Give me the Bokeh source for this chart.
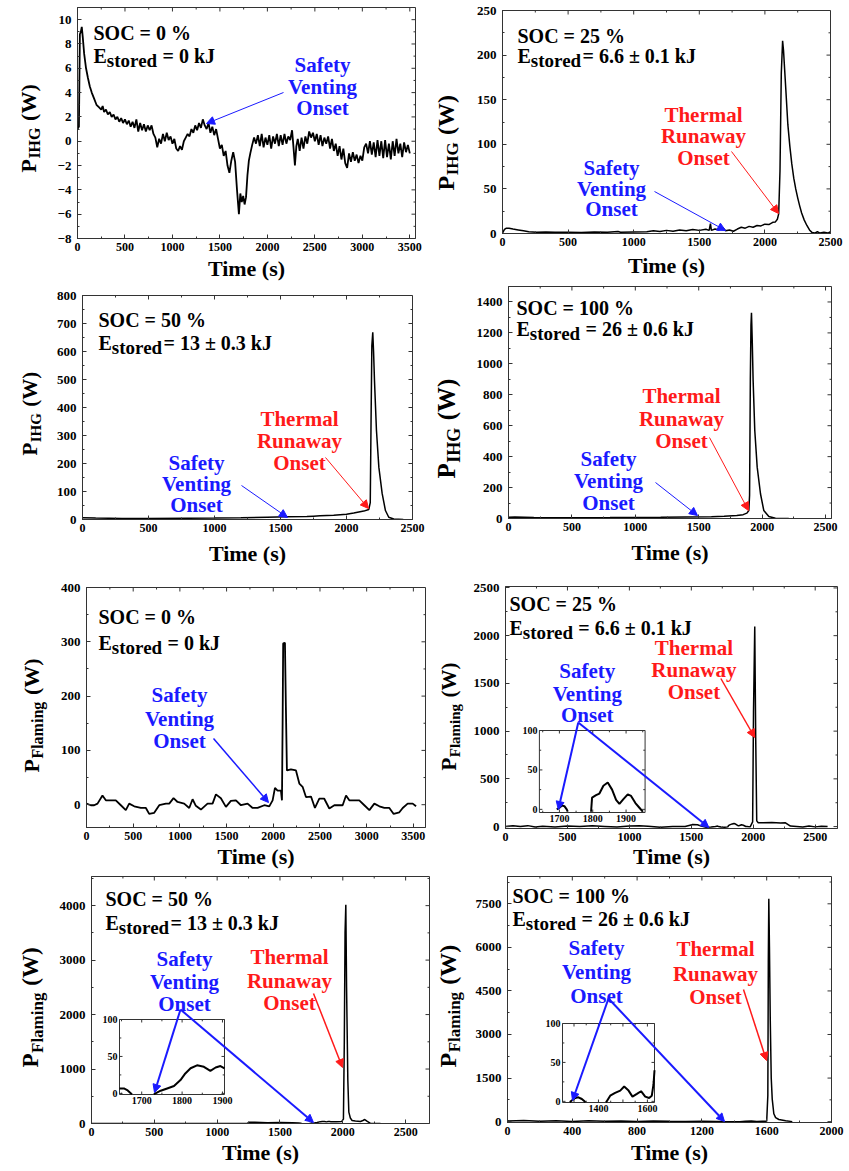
import math
from bokeh.plotting import figure
from bokeh.layouts import column, row
from bokeh.models import Range1d, LinearAxis, SingleIntervalTicker, Label, Arrow, NormalHead
from bokeh.embed import file_html
from bokeh.resources import INLINE
from bokeh.core.properties import value

NAN = float("nan")

# ------------------------------------------------------------------ data
# (time s, power W)
ihg_soc0 = [
    (0, 1.0), (15, 1.2), (25, 8.8), (35, 9.0), (45, 9.4), (55, 8.6), (70, 7.2), (90, 6.0), (110, 5.2), (130, 4.5),
    (150, 4.0), (175, 3.5), (200, 3.0), (225, 2.8), (250, 2.6), (265, 2.9), (280, 2.4), (300, 2.6), (320, 2.2), (340, 2.4),
    (360, 2.0), (380, 2.2), (400, 1.8), (420, 2.0), (440, 1.6), (460, 1.9), (480, 1.5), (500, 1.8), (520, 1.4), (540, 1.7),
    (560, 1.2), (580, 1.6), (600, 1.1), (620, 1.8), (640, 0.8), (660, 1.5), (680, 0.9), (700, 1.4), (720, 0.8), (740, 1.3),
    (760, 0.9), (780, 1.3), (800, 0.6), (820, 0.3), (840, -0.5), (860, 0.2), (880, -0.2), (900, 0.6), (920, 0.0), (940, 0.7),
    (960, 0.1), (980, 0.4), (1000, -0.2), (1020, 0.2), (1040, -0.6), (1060, -0.8), (1080, -0.4), (1100, -0.7), (1120, 0.0), (1140, 0.3),
    (1160, 0.6), (1180, 0.4), (1200, 1.0), (1220, 0.7), (1240, 1.3), (1260, 0.9), (1280, 1.5), (1300, 1.1), (1320, 1.8), (1340, 1.3),
    (1360, 1.0), (1380, 1.5), (1400, 0.7), (1420, 1.2), (1440, 0.5), (1460, 1.0), (1480, 0.2), (1500, -0.6), (1520, -0.3), (1540, -1.2),
    (1560, -0.8), (1580, -2.0), (1600, -2.6), (1620, -1.6), (1640, -0.9), (1660, -1.7), (1680, -4.0), (1700, -6.0), (1715, -4.3), (1730, -5.0),
    (1745, -4.5), (1760, -5.2), (1775, -4.6), (1790, -2.8), (1805, -1.6), (1820, -1.0), (1840, -0.3), (1860, 0.3), (1880, -0.2), (1900, 0.5),
    (1920, -0.4), (1940, 0.6), (1960, -0.5), (1980, 0.3), (2000, -0.3), (2020, 0.5), (2040, -0.6), (2060, 0.4), (2080, -0.2), (2100, 0.6),
    (2120, -0.4), (2140, 0.5), (2160, -0.3), (2180, 0.6), (2200, -0.2), (2220, 0.4), (2240, 0.1), (2260, 0.9), (2275, -0.5), (2290, -2.0),
    (2305, -0.4), (2320, 0.2), (2340, -0.8), (2360, 0.3), (2380, -0.6), (2400, 0.4), (2420, -0.2), (2440, 0.8), (2460, 0.3), (2480, 0.7),
    (2500, 0.0), (2520, 0.6), (2540, -0.3), (2560, 0.5), (2580, -0.4), (2600, 0.3), (2620, -0.2), (2640, 0.4), (2660, -0.6), (2680, 0.2),
    (2700, -0.8), (2720, -0.2), (2740, -1.2), (2760, -0.4), (2780, -1.5), (2800, -0.6), (2820, -1.8), (2840, -2.2), (2860, -1.0), (2880, -1.7),
    (2900, -0.9), (2920, -1.6), (2940, -1.1), (2960, -1.8), (2980, -1.2), (3000, -1.6), (3020, -0.5), (3040, -0.2), (3060, -1.0), (3080, 0.0),
    (3100, -1.1), (3120, -0.1), (3140, -1.3), (3160, 0.1), (3180, -1.2), (3200, 0.0), (3220, -1.4), (3240, 0.1), (3260, -1.3), (3280, -0.2),
    (3300, -1.5), (3320, 0.0), (3340, -1.2), (3360, 0.2), (3380, -1.0), (3400, -0.2), (3420, -1.3), (3440, -0.1), (3460, -0.9), (3480, -0.3),
    (3500, -1.0),
]

ihg_soc25 = [
    (0, 0.5), (15, 4.5), (30, 6.0), (50, 5.8), (80, 5.0), (120, 4.0), (160, 3.0), (200, 2.0), (260, 1.5), (330, 1.8),
    (400, 1.3), (500, 1.5), (600, 1.2), (700, 1.6), (800, 1.4), (880, 2.2), (900, 1.3), (1000, 1.8), (1100, 2.0), (1150, 3.0),
    (1200, 2.2), (1250, 3.5), (1300, 2.5), (1350, 4.0), (1400, 3.0), (1450, 4.5), (1500, 3.5), (1550, 4.8), (1575, 3.5), (1585, 11.0),
    (1592, 3.5), (1620, 5.0), (1650, 4.0), (1680, 6.5), (1700, 3.0), (1730, 4.0), (1760, 2.5), (1790, 5.0), (1820, 7.0), (1850, 6.0),
    (1880, 8.0), (1910, 7.0), (1940, 9.0), (1970, 8.5), (2000, 10.5), (2030, 10.0), (2060, 12.5), (2080, 13.0), (2095, 16.0), (2105, 22.0),
    (2115, 70), (2125, 180), (2135, 216), (2142, 205), (2150, 185), (2160, 160), (2175, 122), (2190, 98), (2205, 78), (2220, 62),
    (2235, 50), (2250, 40), (2265, 31), (2280, 23), (2300, 15), (2320, 9), (2340, 4), (2360, 1), (2380, 0.5), (2400, 2),
    (2420, 0.5), (2450, 1.5), (2480, 0.5), (2500, 2),
]

ihg_soc50 = [
    (0, 6), (100, 5), (300, 4), (500, 4), (800, 4.5), (1000, 5), (1200, 6), (1400, 8), (1550, 9.5), (1700, 11),
    (1750, 12), (1800, 13), (1903, 15), (2000, 19), (2055, 23), (2131, 30), (2169, 36), (2180, 60), (2186, 350), (2192, 620),
    (2199, 669), (2205, 600), (2212, 496), (2227, 318), (2245, 187), (2270, 93), (2295, 32), (2320, 8), (2358, 2), (2430, 0),
]

ihg_soc100 = [
    (0, 8), (50, 10), (200, 6), (500, 5), (800, 6), (1000, 7), (1200, 8), (1400, 10), (1600, 12), (1700, 14),
    (1800, 19), (1850, 25), (1880, 35), (1895, 52), (1901, 150), (1907, 900), (1912, 1250), (1916, 1330), (1922, 1150), (1929, 892),
    (1942, 569), (1961, 332), (1987, 160), (2013, 52), (2053, 13), (2105, 2), (2210, 0),
]

flame_soc0 = [
    (0, 2), (46, -1), (82, -1), (118, 2), (171, 17), (207, 8), (261, 8), (314, 8), (368, -1), (421, -10),
    (457, 2), (511, -3), (582, -6), (636, -6), (671, -17), (725, -15), (779, -1), (850, 2), (886, 2), (932, 12),
    (975, 5), (1046, 2), (1100, -6), (1136, 10), (1171, -2), (1225, -9), (1296, 2), (1350, 2), (1386, 19), (1439, 12),
    (1493, -4), (1546, 7), (1600, 8), (1654, -1), (1725, 2), (1779, -6), (1832, -6), (1904, -1), (1957, -3), (1993, 8),
    (2018, 31), (2046, 26), (2082, 26), (2093, 8), (2100, 150), (2106, 297), (2125, 298), (2135, 180), (2146, 63), (2189, 65),
    (2243, 63), (2279, 39), (2314, 33), (2350, 14), (2404, 15), (2446, -6), (2493, 11), (2546, 11), (2600, -7), (2654, -1),
    (2707, -1), (2743, -1), (2779, 17), (2814, 8), (2868, 8), (2921, 8), (2975, -1), (3029, -10), (3082, 2), (3136, -3),
    (3189, -6), (3243, -6), (3289, -17), (3350, -14), (3386, -6), (3439, 2), (3493, 2), (3529, -3),
]

flame_soc25 = [
    (0, 0), (60, 8), (120, 2), (180, 10), (240, -5), (300, 3), (400, -5), (500, 5), (600, 0), (700, 8),
    (800, 2), (900, -4), (1000, 6), (1080, 8), (1150, 3), (1250, -6), (1350, 2), (1450, 0), (1490, 15), (1510, 22),
    (1550, 20), (1580, 5), (1620, -8), (1660, -5), (1695, 0), (1705, 4), (1712, 5), (1720, 0), (1740, -5), (1770, -6),
    (1795, -3), (1800, 10), (1810, 18), (1830, 28), (1845, 33), (1860, 24), (1880, 7), (1890, 12), (1905, 19), (1920, 14),
    (1940, 1), (1950, 0), (1975, -3), (1995, 50), (2002, 1200), (2012, 2096), (2020, 900), (2028, 60), (2040, 40), (2080, 40),
    (2150, 42), (2220, 38), (2260, 40), (2300, 5), (2350, 0), (2400, -5), (2450, 6), (2500, -3), (2550, 4), (2600, 0),
]
flame_soc25_zoom = [
    (1692, 0), (1700, 2), (1708, 5), (1715, 4), (1722, 0), (1725, -3), (NAN, NAN), (1795, -3), (1798, 15), (1810, 18),
    (1820, 20), (1832, 30), (1845, 34), (1858, 25), (1870, 12), (1880, 7), (1892, 13), (1905, 19), (1915, 17), (1928, 8),
    (1940, 2), (1950, -3),
]

flame_soc50 = [
    (0, 0), (300, 0), (600, 0), (900, 0), (1200, 0), (1240, 2), (1255, 25), (1300, 22), (1400, 15), (1500, 20),
    (1600, 12), (1650, 7), (1665, 5), (1672, 0), (1700, -3), (1734, 0), (1763, 7), (1796, 18), (1821, 34), (1837, 38),
    (1854, 36), (1870, 30), (1883, 35), (1895, 37), (1905, 34), (1950, 30), (1990, 35), (2005, 80), (2012, 1500), (2018, 3500),
    (2024, 4015), (2030, 2500), (2040, 800), (2048, 208), (2060, 100), (2074, 55), (2100, 45), (2141, 37), (2160, 55), (2175, 73),
    (2195, 40), (2220, 2), (2260, 0), (2300, 0),
]
flame_soc50_zoom = [
    (1645, 6.7), (1656, 6.7), (1664, 4.5), (1672, 0.5), (1676, -1), (NAN, NAN), (1730, -1), (1734, 0), (1747, 3.6), (1763, 6.7),
    (1780, 10), (1796, 18), (1808, 27), (1821, 34), (1837, 38), (1854, 36), (1870, 30.5), (1883, 35), (1895, 37), (1905, 34),
]

flame_soc100 = [
    (0, 25), (100, 40), (200, 10), (300, 30), (400, 5), (500, 30), (600, 15), (700, 25), (800, 5), (900, 20),
    (1000, 10), (1100, 5), (1200, 10), (1291, 1), (1318, 5), (1343, 0), (1434, 0), (1468, 11), (1505, 19), (1539, 6),
    (1574, 13), (1600, 15), (1607, 900), (1610, 5500), (1613, 7672), (1617, 6000), (1622, 3500), (1628, 1500), (1634, 786), (1644, 270),
    (1655, 140), (1675, 73), (1717, 28), (1758, 0),
]
flame_soc100_zoom = [
    (1283, -1), (1291, 1), (1305, 4.3), (1318, 5.2), (1332, 3), (1343, 0), (1347, -1), (NAN, NAN), (1430, -1), (1434, 0),
    (1448, 7.3), (1468, 10.8), (1489, 13.8), (1505, 19), (1523, 13.8), (1539, 6), (1557, 9.5), (1574, 13), (1591, 6), (1607, 4.3),
    (1618, 7.3), (1625, 22), (1629, 40),
]

soc_labels = ["SOC = 0 %", "SOC = 25 %", "SOC = 50 %", "SOC = 100 %"]
energy_labels = ["0 kJ", "6.6 \u00b1 0.1 kJ", "13 \u00b1 0.3 kJ", "26 \u00b1 0.6 kJ"]

inset25_xticks = [1700, 1800, 1900]
inset50_xticks = [1700, 1800, 1900]
inset100_xticks = [1400, 1600]
inset_yticks = [0, 50, 100]

# ------------------------------------------------------------------ style / layout
FONT = "Liberation Serif"
AX = "#333333"
BLUE = "#1a1aff"
RED = "#ff1a1a"

EM = {"P": .611, "I": .389, "H": .778, "G": .778, "F": .611, "l": .278, "a": .5, "m": .833,
      "i": .278, "n": .556, "g": .5, "E": .667, "s": .389, "t": .333, "o": .5, "r": .444,
      "e": .444, "d": .556, " ": .25, "(": .333, ")": .333, "W": 1.0}


def em(s):
    return sum(EM.get(c, .5) for c in s)


# lab = (left, width) of the strip holding the y title; fig = plot box; frame = data area (page px)
SPECS = {
    "A": dict(lab=(0, 50), fig=(50, 0, 384, 287), frame=(77, 415, 7, 238), xr=(0, 3560), yr=(-8, 11), xt=500, yt=2),
    "C": dict(lab=(0, 52), fig=(52, 287, 382, 285), frame=(82, 412, 295, 519), xr=(0, 2500), yr=(0, 800), xt=500, yt=100),
    "E": dict(lab=(0, 54), fig=(54, 572, 380, 303), frame=(86, 425, 587, 827), xr=(0, 3630), yr=(-42, 400), xt=500, yt=100),
    "G": dict(lab=(0, 54), fig=(54, 875, 380, 296), frame=(91, 429, 876, 1123), xr=(0, 2690), yr=(0, 4535), xt=500, yt=1000),
    "B": dict(lab=(434, 36), fig=(470, 0, 379, 284), frame=(502, 830, 10, 233), xr=(0, 2500), yr=(0, 250), xt=500, yt=50),
    "D": dict(lab=(434, 34), fig=(468, 284, 381, 288), frame=(508, 831, 286, 518), xr=(0, 2547), yr=(0, 1500), xt=500, yt=200),
    "F": dict(lab=(434, 36), fig=(470, 572, 379, 303), frame=(504, 837, 586, 828), xr=(0, 2680), yr=(-20, 2515), xt=500, yt=500),
    "H": dict(lab=(434, 36), fig=(470, 875, 379, 296), frame=(507, 831, 876, 1122), xr=(0, 2000), yr=(-30, 8440), xt=400, yt=1500),
}


def to_data(spec, X, Y):
    L, R, T, B = spec["frame"]
    x0, x1 = spec["xr"]
    y0, y1 = spec["yr"]
    return x0 + (X - L) / (R - L) * (x1 - x0), y0 + (B - Y) / (B - T) * (y1 - y0)


def make_fig(spec):
    fx, fy, fw, fh = spec["fig"]
    L, R, T, B = spec["frame"]
    bottom = fy + fh - B
    p = figure(width=fw, height=fh, x_range=Range1d(*spec["xr"]), y_range=Range1d(*spec["yr"]),
               output_backend="svg", toolbar_location=None,
               x_axis_location=None, y_axis_location=None,
               min_border_left=L - fx, min_border_right=fx + fw - R,
               min_border_top=T - fy, min_border_bottom=bottom)
    p.grid.visible = False
    p.outline_line_color = AX
    p.outline_line_width = 1
    p.background_fill_color = "white"
    p.border_fill_color = "white"
    for loc, ivl, size in (("below", spec["xt"], "12px"), ("left", spec["yt"], "13px")):
        ax = LinearAxis(ticker=SingleIntervalTicker(interval=ivl, num_minor_ticks=2))
        ax.axis_line_color = AX
        ax.major_tick_in = 4
        ax.major_tick_out = 0
        ax.minor_tick_in = 2
        ax.minor_tick_out = 0
        ax.major_tick_line_color = AX
        ax.minor_tick_line_color = AX
        ax.major_label_text_font = FONT
        ax.major_label_text_font_style = "bold"
        ax.major_label_text_font_size = size
        ax.major_label_text_color = "black"
        ax.major_label_standoff = 6 if loc == "left" else 4
        if loc == "below":
            ax.axis_label = "Time (s)"
            ax.axis_label_text_font = FONT
            ax.axis_label_text_font_style = "bold"
            ax.axis_label_text_font_size = "22px"
            ax.axis_label_text_color = "black"
            ax.axis_label_standoff = max(0, min(6, bottom - 47))
        p.add_layout(ax, loc)
    # mirrored inward ticks on the top and right edges of the frame
    x0, x1 = spec["xr"]
    y0, y1 = spec["yr"]
    ux = (x1 - x0) / (R - L)
    uy = (y1 - y0) / (B - T)
    xs0, ys0, xs1, ys1 = [], [], [], []
    step = spec["xt"] / 2
    k = math.ceil(x0 / step)
    while k * step <= x1:
        ln = 4 if k % 2 == 0 else 2
        xs0.append(k * step); xs1.append(k * step); ys0.append(y1); ys1.append(y1 - ln * uy)
        k += 1
    step = spec["yt"] / 2
    k = math.ceil(y0 / step)
    while k * step <= y1:
        ln = 4 if k % 2 == 0 else 2
        ys0.append(k * step); ys1.append(k * step); xs0.append(x1); xs1.append(x1 - ln * ux)
        k += 1
    p.segment(x0=xs0, y0=ys0, x1=xs1, y1=ys1, line_color=AX, line_width=1)
    return p


def make_title_strip(spec, sub, Xb, Yb, F):
    """Narrow figure left of a panel that carries the vertical P_sub (W) title.
    Bokeh aligns its frame with the neighbouring panel's frame, so the strip's
    y range is set to span exactly that frame (in page pixels, flipped)."""
    lx, lw = spec["lab"]
    fy, fh = spec["fig"][1], spec["fig"][3]
    L, R, T, B = spec["frame"]
    q = figure(width=lw, height=fh, x_range=Range1d(0, lw),
               y_range=Range1d(fh - (B - fy), fh - (T - fy)),
               output_backend="svg", toolbar_location=None,
               x_axis_location=None, y_axis_location=None, min_border=0)
    q.min_border_left = q.min_border_right = q.min_border_top = q.min_border_bottom = 0
    q.grid.visible = False
    q.outline_line_color = None
    q.background_fill_color = "white"
    q.border_fill_color = "white"

    def lab(Xc, Yc, s, size):
        q.add_layout(Label(x=Xc - lx, y=fh - (Yc - fy), text=s, text_font=FONT, text_font_style="bold",
                           text_font_size=f"{size}px", text_color="black", text_align="center",
                           text_baseline="middle", angle=math.pi / 2))

    Fs = round(F * 0.72)
    y = Yb
    w = EM["P"] * F
    lab(Xb - 0.33 * F, y - w / 2, "P", F)
    y -= w + 0.02 * F
    w = em(sub) * Fs
    lab(Xb + 0.2 * F - 0.33 * Fs, y - w / 2, sub, Fs)
    y -= w + 0.3 * F
    w = em("(W)") * F
    lab(Xb - 0.33 * F, y - w / 2, "(W)", F)
    return q


def put(p, spec, X, Y, s, size, color="black", align="left", baseline="alphabetic"):
    x, y = to_data(spec, X, Y)
    p.add_layout(Label(x=x, y=y, text=s, text_font=FONT, text_font_style="bold",
                       text_font_size=f"{size}px", text_color=color, text_align=align,
                       text_baseline=baseline))


def arrow(p, spec, X0, Y0, X1, Y1, color, width):
    x0, y0 = to_data(spec, X0, Y0)
    x1, y1 = to_data(spec, X1, Y1)
    p.add_layout(Arrow(end=NormalHead(size=8, fill_color=color, line_color=color, line_width=1),
                       x_start=x0, y_start=y0, x_end=x1, y_end=y1,
                       line_color=color, line_width=width))


def header(p, spec, X, Y1, Y2, k, space):
    put(p, spec, X, Y1, soc_labels[k], 20)
    put(p, spec, X, Y2, "E", 20)
    xs = X + EM["E"] * 20
    put(p, spec, xs, Y2 + 5, "stored", 19)
    xs += em("stored") * 19 + (5 if space else 1)
    put(p, spec, xs, Y2, "= " + energy_labels[k], 20)


def lines3(p, spec, Xc, ys, words, color):
    for w, y in zip(words, ys):
        put(p, spec, Xc, y, w, 21, color=color, align="center")


SAFETY = ["Safety", "Venting", "Onset"]
THERMAL = ["Thermal", "Runaway", "Onset"]


def curve(p, series, lw):
    t = [a for a, _ in series]
    v = [b for _, b in series]
    p.line(t, v, line_color="black", line_width=lw)


def add_inset(p, spec, name, box, xr, yr, series, xmaj, xlab, xmin, ymaj, ymin):
    L, R, T, B = spec["frame"]
    bl, br, bt, bb = box
    sx = (xr[1] - xr[0]) / (br - bl)
    sy = (yr[1] - yr[0]) / (bb - bt)
    p.extra_x_ranges = {**p.extra_x_ranges, name: Range1d(xr[0] - (bl - L) * sx, xr[1] + (R - br) * sx)}
    p.extra_y_ranges = {**p.extra_y_ranges, name: Range1d(yr[0] - (B - bb) * sy, yr[1] + (bt - T) * sy)}
    kw = dict(x_range_name=name, y_range_name=name)
    p.quad(left=[xr[0]], right=[xr[1]], bottom=[yr[0]], top=[yr[1]],
           fill_color="white", line_color=AX, line_width=1, **kw)
    x0s, y0s, x1s, y1s = [], [], [], []
    for xv, ln in [(x, 3) for x in xmaj] + [(x, 1.8) for x in xmin]:
        x0s += [xv, xv]; x1s += [xv, xv]
        y0s += [yr[0], yr[1]]; y1s += [yr[0] + ln * sy, yr[1] - ln * sy]
    for yv, ln in [(y, 3) for y in ymaj] + [(y, 1.8) for y in ymin]:
        y0s += [yv, yv]; y1s += [yv, yv]
        x0s += [xr[0], xr[1]]; x1s += [xr[0] + ln * sx, xr[1] - ln * sx]
    p.segment(x0=x0s, y0=y0s, x1=x1s, y1=y1s, line_color=AX, line_width=1, **kw)
    p.text(x=xlab, y=[yr[0] - 2 * sy] * len(xlab), text=[str(v) for v in xlab],
           text_font=value(FONT), text_font_style="bold", text_font_size=value("10px"),
           text_align="center", text_baseline="top", text_color="black", **kw)
    p.text(x=[xr[0] - 2 * sx] * len(inset_yticks), y=inset_yticks, text=[str(v) for v in inset_yticks],
           text_font=value(FONT), text_font_style="bold", text_font_size=value("10px"),
           text_align="right", text_baseline="middle", text_color="black", **kw)
    t = [a for a, _ in series]
    v = [b for _, b in series]
    p.line(t, v, line_color="black", line_width=2, **kw)


# ------------------------------------------------------------------ panels
figs = {}
strips = {}

s = SPECS["A"]; p = make_fig(s)
curve(p, ihg_soc0, 1.8)
header(p, s, 93, 32, 55, 0, True)
lines3(p, s, 322, [64, 86, 107], SAFETY, BLUE)
arrow(p, s, 283, 92, 206, 123, BLUE, 1)
strips["A"] = make_title_strip(s, "IHG", 35, 172, 22)
figs["A"] = p

s = SPECS["B"]; p = make_fig(s)
curve(p, ihg_soc25, 1.5)
header(p, s, 517, 35, 55, 1, False)
lines3(p, s, 611, [167, 188, 208], SAFETY, BLUE)
lines3(p, s, 703, [114, 135, 157], THERMAL, RED)
arrow(p, s, 654, 191, 725, 230, BLUE, 1)
arrow(p, s, 731, 151, 778, 213, RED, 1)
strips["B"] = make_title_strip(s, "IHG", 453, 190, 24)
figs["B"] = p

s = SPECS["C"]; p = make_fig(s)
curve(p, ihg_soc50, 1.5)
header(p, s, 98, 319, 342, 2, False)
lines3(p, s, 196, [462, 483, 504], SAFETY, BLUE)
lines3(p, s, 299, [418, 440, 462], THERMAL, RED)
arrow(p, s, 241, 485, 287, 517, BLUE, 1)
arrow(p, s, 325, 457, 368, 508, RED, 1)
strips["C"] = make_title_strip(s, "IHG", 36, 455, 21)
figs["C"] = p

s = SPECS["D"]; p = make_fig(s)
curve(p, ihg_soc100, 1.5)
header(p, s, 516, 307, 328, 3, True)
lines3(p, s, 608, [458, 480, 502], SAFETY, BLUE)
lines3(p, s, 681, [395, 418, 440], THERMAL, RED)
arrow(p, s, 655, 482, 697, 515, BLUE, 1)
arrow(p, s, 709, 437, 748, 510, RED, 1)
strips["D"] = make_title_strip(s, "IHG", 454, 478, 25)
figs["D"] = p

s = SPECS["E"]; p = make_fig(s)
curve(p, flame_soc0, 1.8)
header(p, s, 98, 616, 642, 0, True)
lines3(p, s, 179, [694, 718, 740], SAFETY, BLUE)
arrow(p, s, 213, 738, 268, 802, BLUE, 1.5)
strips["E"] = make_title_strip(s, "Flaming", 38, 772, 22)
figs["E"] = p

s = SPECS["F"]; p = make_fig(s)
curve(p, flame_soc25, 1.5)
add_inset(p, s, "ins", (538, 644, 730, 812), (1640, 1957), (-4, 100), flame_soc25_zoom,
          [1700, 1800, 1900], inset25_xticks, [1650, 1750, 1850, 1950], [0, 50, 100], [25, 75])
header(p, s, 508, 603, 627, 1, True)
lines3(p, s, 586, [670, 693, 714], SAFETY, BLUE)
lines3(p, s, 693, [647, 669, 691], THERMAL, RED)
arrow(p, s, 577, 722, 557, 809, BLUE, 2)
arrow(p, s, 577, 722, 708, 827, BLUE, 2)
arrow(p, s, 720, 678, 754, 737, RED, 1.5)
strips["F"] = make_title_strip(s, "Flaming", 455, 770, 21)
figs["F"] = p

s = SPECS["G"]; p = make_fig(s)
curve(p, flame_soc50, 1.5)
add_inset(p, s, "ins", (119, 224, 1019, 1094), (1645, 1905), (-1.5, 100), flame_soc50_zoom,
          [1700, 1800, 1900], inset50_xticks, [1650, 1750, 1850], [0, 50, 100], [25, 75])
header(p, s, 105, 898, 922, 2, False)
lines3(p, s, 184, [958, 981, 1003], SAFETY, BLUE)
lines3(p, s, 289, [956, 980, 1002], THERMAL, RED)
arrow(p, s, 180, 1009, 154, 1092, BLUE, 2)
arrow(p, s, 180, 1009, 313, 1122, BLUE, 2)
arrow(p, s, 313, 993, 342, 1067, RED, 1.5)
strips["G"] = make_title_strip(s, "Flaming", 38, 1067, 23)
figs["G"] = p

s = SPECS["H"]; p = make_fig(s)
curve(p, flame_soc100, 1.5)
add_inset(p, s, "ins", (562, 654, 1023, 1102), (1253, 1629), (-1.5, 100), flame_soc100_zoom,
          [1300, 1400, 1500, 1600], inset100_xticks, [1350, 1450, 1550], [0, 50, 100], [25, 75])
header(p, s, 512, 895, 918, 3, True)
lines3(p, s, 596, [947, 971, 995], SAFETY, BLUE)
lines3(p, s, 715, [948, 973, 996], THERMAL, RED)
arrow(p, s, 608, 998, 572, 1100, BLUE, 2)
arrow(p, s, 608, 998, 724, 1121, BLUE, 2)
arrow(p, s, 743, 989, 766, 1060, RED, 1.5)
strips["H"] = make_title_strip(s, "Flaming", 455, 1067, 24)
figs["H"] = p

left = column(*[row(strips[k], figs[k], spacing=0) for k in "ACEG"], spacing=0)
right = column(*[row(strips[k], figs[k], spacing=0) for k in "BDFH"], spacing=0)
layout = row(left, right, spacing=0)

open("out.html", "w").write(file_html(layout, INLINE, "Heat generation"))
